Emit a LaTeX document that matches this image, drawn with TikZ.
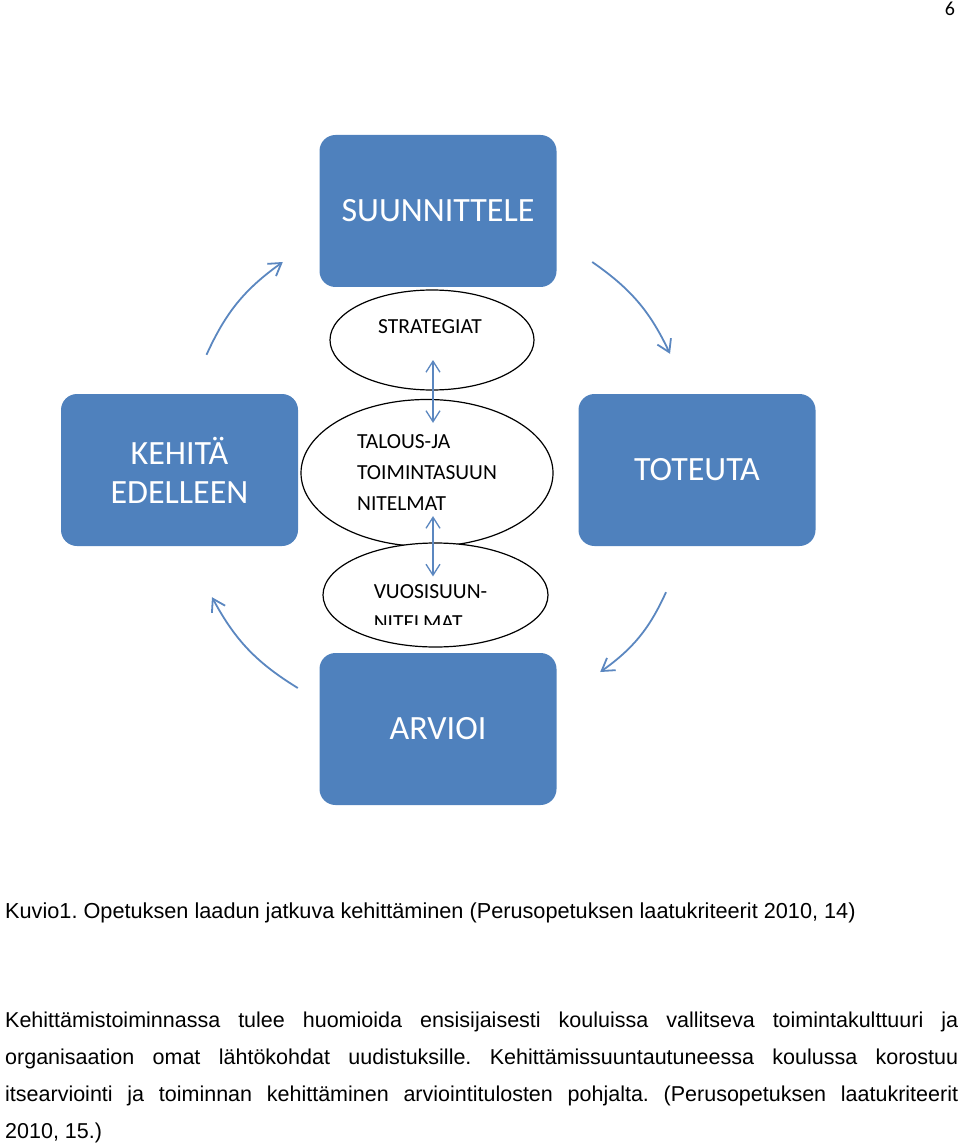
\documentclass[tikz,border=0pt]{standalone}
\usepackage{fontspec}
\setmainfont{Liberation Sans}
\newfontfamily\calibri{Carlito}
\usetikzlibrary{arrows.meta,positioning,calc,shapes.geometric}
\definecolor{boxblue}{HTML}{4F81BD}
\definecolor{arrblue}{HTML}{5B87C0}

\begin{document}
\frenchspacing
\begin{tikzpicture}[x=1pt, y=1pt,
  phase/.style={fill=boxblue, rounded corners=16pt, minimum width=237pt,
                minimum height=152pt, text=white, inner sep=0pt,
                font=\calibri\fontsize{34}{39}\selectfont, align=center},
  plan/.style={draw, ellipse, fill=white, line width=1.2pt, inner sep=0pt},
  ptxt/.style={font=\calibri\fontsize{21.5}{31}\selectfont, align=left,
               inner sep=0pt},
  cyc/.style={-{Straight Barb[length=12pt,width=15pt]}, draw=arrblue,
              line width=1.8pt, bend left=15},
  dbl/.style={{Straight Barb[length=11pt,width=14pt]}-{Straight Barb[length=11pt,width=14pt]},
              draw=arrblue, line width=1.3pt},
  body/.style={font=\fontsize{21.5}{37}\selectfont, inner sep=0pt}
]
\useasboundingbox (0,0) rectangle (960,-1147);

% --- page number ---
\node[font=\calibri\fontsize{20}{24}\selectfont, inner sep=0pt] (page) at (950,-9) {6};

% --- four phases of the cycle ---
\node[phase] (plan) at (438,-211) {SUUNNITTELE};
\node[phase] (dev) at (179.5,-470) {KEHITÄ\\EDELLEEN};
\node[phase] (do) at (697,-470) {TOTEUTA};
\node[phase] (eval) at (438,-729) {ARVIOI};

% --- plans in the middle ---
\node[plan, minimum width=204pt, minimum height=100pt] (strat) at (432,-340) {};
\node[ptxt] (stratlbl) at ([xshift=-2pt, yshift=13pt]strat.center) {STRATEGIAT};
\node[plan, ptxt, minimum width=252pt, minimum height=147pt] (talous) at (427,-473)
  {TALOUS-JA\\TOIMINTASUUN\\NITELMAT};
\node[plan, minimum width=225pt, minimum height=104pt] (vuosi) at (435.5,-595) {};
\begin{scope}
  \clip ($(vuosi.south -| vuosi.west)+(0,23)$) rectangle (vuosi.north -| vuosi.east);
  \node[ptxt] (vuosilbl) at ([xshift=-5pt, yshift=-12pt]vuosi.center)
    {VUOSISUUN-\\NITELMAT};
\end{scope}

% --- arrows between the plans ---
\draw[dbl] ($(strat.center)+(1,-20)$) -- ($(strat.center |- talous.north)+(1,-24)$);
\draw[dbl] ($(strat.center |- talous.south)+(1,31)$) -- ($(strat.center |- vuosi.north)+(1,-34)$);

% --- arrows of the cycle ---
\draw[cyc] ($(dev.north)+(27,39)$) to ($(plan.west)+(-36.5,-51)$);
\draw[cyc] ($(plan.east)+(35.5,-51)$) to ($(do.north)+(-27,40)$);
\draw[cyc] ($(do.south)+(-31,-46)$) to ($(eval.east)+(43.5,57)$);
\draw[cyc] ($(eval.west)+(-21.5,41)$) to ($(dev.south)+(32.5,-51)$);

% --- caption and text ---
\node[font=\fontsize{21.7}{26}\selectfont, anchor=base west, inner sep=0pt] (cap) at (5,-918)
  {Kuvio1. Opetuksen laadun jatkuva kehittäminen (Perusopetuksen laatukriteerit 2010, 14)};
\node[body, text width=953pt, align=justify, anchor=north west] (txt) at (5,-1011.5)
  {Kehittämistoiminnassa tulee huomioida ensisijaisesti kouluissa vallitseva toimintakulttuuri ja\linebreak
   organisaation omat lähtökohdat uudistuksille. Kehittämissuuntautuneessa koulussa korostuu\linebreak
   itsearviointi ja toiminnan kehittäminen arviointitulosten pohjalta. (Perusopetuksen laatukriteerit\linebreak
   2010, 15.)};
\end{tikzpicture}
\end{document}
